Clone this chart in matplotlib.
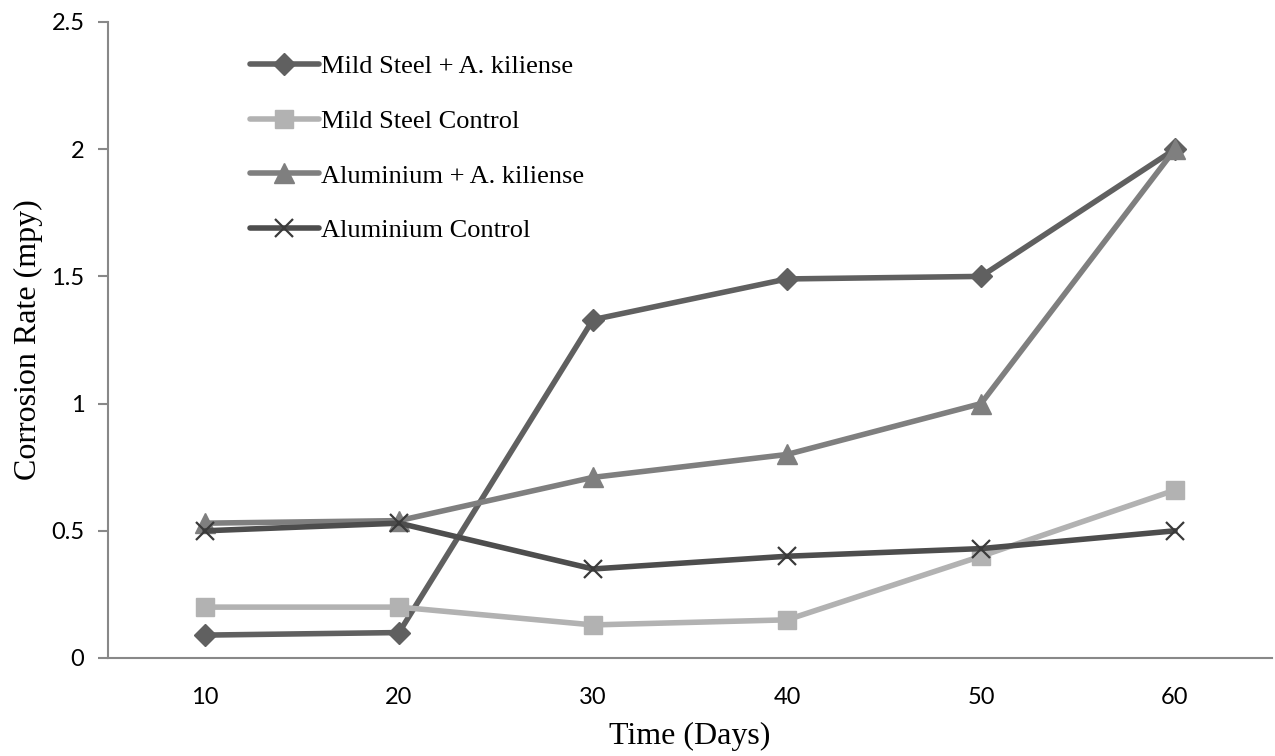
import matplotlib
matplotlib.use("Agg")
import matplotlib.pyplot as plt

# ── data ─────────────────────────────────────────────
days = ["10", "20", "30", "40", "50", "60"]
mild_steel_ak = [0.09, 0.10, 1.33, 1.49, 1.50, 2.00]
mild_steel_ctrl = [0.20, 0.20, 0.13, 0.15, 0.40, 0.66]
alu_ak = [0.53, 0.54, 0.71, 0.80, 1.00, 2.00]
alu_ctrl = [0.50, 0.53, 0.35, 0.40, 0.43, 0.50]

series = [
    ("Mild Steel + A. kiliense", mild_steel_ak, "#606060", "D", 11),
    ("Mild Steel Control", mild_steel_ctrl, "#b2b2b2", "s", 13),
    ("Aluminium + A. kiliense", alu_ak, "#7f7f7f", "^", 14),
    ("Aluminium Control", alu_ctrl, "#4d4d4d", "x", 13),
]

fig = plt.figure(figsize=(12.75, 7.56), dpi=100)
ax = fig.add_axes([108 / 1275, 98 / 756, (1272 - 108) / 1275, (658 - 22) / 756])

xs = list(range(len(days)))
for label, vals, color, marker, ms in series:
    if marker == "x":
        ax.plot(xs, vals, color=color, lw=4, marker=marker, ms=ms,
                mec="#3a3a3a", mew=1.6, label=label, solid_capstyle="round")
    else:
        ax.plot(xs, vals, color=color, lw=4, marker=marker, ms=ms,
                mfc=color, mec=color, label=label, solid_capstyle="round")

ax.set_xlim(-0.5, len(days) - 0.5)
ax.set_ylim(0, 2.5)
ax.set_xticks(xs)
ax.set_xticklabels(days)
ax.set_yticks([0, 0.5, 1, 1.5, 2, 2.5])
ax.set_yticklabels(["0", "0.5", "1", "1.5", "2", "2.5"])

for side in ["top", "right"]:
    ax.spines[side].set_visible(False)
for side in ["left", "bottom"]:
    ax.spines[side].set_color("#888888")
    ax.spines[side].set_linewidth(1.5)

ax.tick_params(axis="x", length=0, pad=21, labelsize=17)
ax.tick_params(axis="y", length=7, width=1.5, color="#888888", pad=10, labelsize=17)
for lab in ax.get_xticklabels() + ax.get_yticklabels():
    lab.set_family("Lato")

ax.set_xlabel("Time (Days)", family="Liberation Serif", fontsize=23, labelpad=10)
ax.set_ylabel("Corrosion Rate (mpy)", family="Liberation Serif", fontsize=23, labelpad=6)

leg = fig.legend(loc="upper left", bbox_to_anchor=(250 / 1275, 1 - 55 / 756),
                 frameon=False, prop={"family": "Liberation Serif", "size": 19},
                 handlelength=2.6, handletextpad=0.1, labelspacing=1.18,
                 borderpad=0, borderaxespad=0)

fig.savefig("out.png", dpi=100)
